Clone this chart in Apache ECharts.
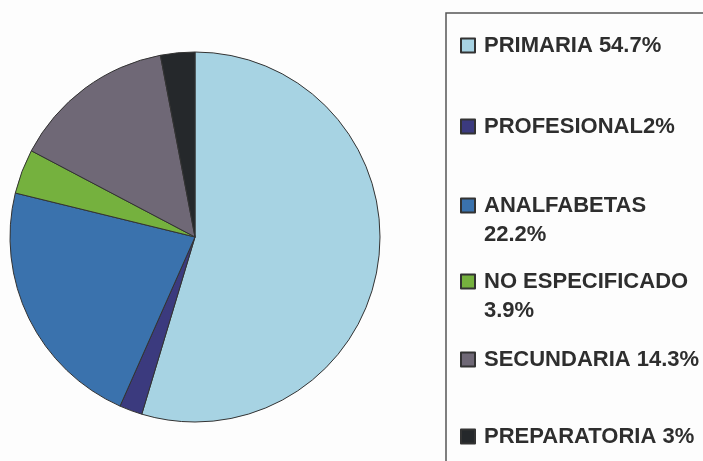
<!DOCTYPE html>
<html>
<head>
<meta charset="utf-8">
<script src="https://cdn.jsdelivr.net/npm/echarts@6/dist/echarts.min.js"></script>
<style>
  html, body { margin: 0; padding: 0; background: #fdfdfd; }
  #main { width: 703px; height: 461px; }
</style>
</head>
<body>
<div id="main"></div>
<script>
// datos del grafico
var categorias = ['PRIMARIA', 'PROFESIONAL', 'ANALFABETAS', 'NO ESPECIFICADO', 'SECUNDARIA', 'PREPARATORIA'];
var porcentajes = [54.7, 2, 22.2, 3.9, 14.3, 3];
var etiquetas = ['PRIMARIA 54.7%', 'PROFESIONAL2%', 'ANALFABETAS\n22.2%', 'NO ESPECIFICADO\n3.9%', 'SECUNDARIA 14.3%', 'PREPARATORIA 3%'];
var colores = ['#a7d3e3', '#3b3a7e', '#3a72ad', '#75b13e', '#6f6876', '#25282b'];

// posicion vertical de cada leyenda
var legendTops = [31, 112, 162, 238, 345, 422];

var pieData = categorias.map(function (c, i) {
  return { name: c, value: porcentajes[i], itemStyle: { color: colores[i] } };
});

var legends = categorias.map(function (c, i) {
  var dosLineas = etiquetas[i].indexOf('\n') >= 0;
  // linea vacia arriba para que el cuadro quede junto a la primera linea
  var texto = dosLineas ? ' \n' + etiquetas[i] : etiquetas[i];
  return {
    data: [c],
    left: 460,
    top: legendTops[i],
    padding: 0,
    icon: 'rect',
    itemWidth: 14,
    itemHeight: 14,
    selectedMode: false,
    formatter: function () { return texto; },
    textStyle: {
      fontFamily: 'Liberation Sans, Arial, sans-serif',
      fontWeight: 'bold',
      fontSize: 22,
      lineHeight: 29,
      color: '#2e2e2e',
      padding: [0, 0, 0, 4]
    }
  };
});

var chart = echarts.init(document.getElementById('main'));
var option = {
  backgroundColor: '#fdfdfd',
  animation: false,
  legend: legends,
  graphic: [{
    type: 'rect',
    shape: { x: 446, y: 13, width: 400, height: 600 },
    style: { fill: 'none', stroke: '#555', lineWidth: 1.5 },
    silent: true
  }],
  series: [{
    type: 'pie',
    center: [195, 237],
    radius: 185,
    startAngle: 90,
    clockwise: true,
    label: { show: false },
    labelLine: { show: false },
    itemStyle: { borderColor: '#333', borderWidth: 1 },
    emphasis: { disabled: true },
    data: pieData
  }]
};
chart.setOption(option);
</script>
</body>
</html>
